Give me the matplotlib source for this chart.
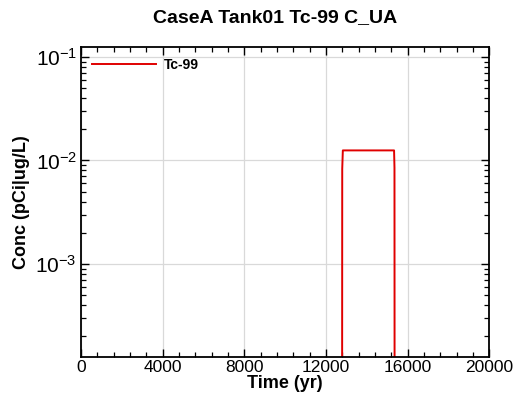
import matplotlib
matplotlib.use("Agg")
import matplotlib.pyplot as plt
from matplotlib.ticker import MultipleLocator, LogLocator, FixedLocator

plt.rcParams['font.family'] = ['Liberation Sans', 'DejaVu Sans']
plt.rcParams['mathtext.fontset'] = 'custom'
plt.rcParams['mathtext.rm'] = 'Liberation Sans'
plt.rcParams['mathtext.it'] = 'Liberation Sans:italic'
plt.rcParams['mathtext.bf'] = 'Liberation Sans:bold'

# Tc-99 concentration history (yr, pCi/L)
time_yr = [0, 12780, 12800, 12830, 15340, 15360, 15380, 20000]
conc = [1e-10, 1e-10, 0.0083, 0.0125, 0.0125, 0.0085, 1e-10, 1e-10]
series_label = "Tc-99"
title = "CaseA Tank01 Tc-99 C_UA"
xticks = [0, 4000, 8000, 12000, 16000, 20000]

fig = plt.figure(figsize=(5.16, 3.98), dpi=100)
ax = fig.add_axes([0.157, 0.103, 0.791, 0.780])

ax.plot(time_yr, conc, color='#e00000', lw=1.4, label=series_label)
ax.set_yscale('log')
ax.set_xlim(0, 20000)
ax.set_ylim(1.26e-4, 0.126)

ax.xaxis.set_major_locator(FixedLocator(xticks))
ax.xaxis.set_minor_locator(MultipleLocator(800))
ax.yaxis.set_major_locator(LogLocator(base=10, numticks=10))
ax.yaxis.set_minor_locator(LogLocator(base=10, subs=range(2, 10), numticks=20))

ax.grid(True, which='major', color='#d9d9d9', lw=0.9)
ax.set_axisbelow(True)

ax.tick_params(which='both', direction='in', top=True, right=True, color='black')
ax.tick_params(which='major', length=6, width=1.0)
ax.tick_params(which='minor', length=3.5, width=0.9)
ax.tick_params(axis='x', labelsize=12.5, pad=2)
ax.tick_params(axis='y', labelsize=15, pad=3)
for s in ax.spines.values():
    s.set_linewidth(1.3)

ax.set_xlabel("Time (yr)", fontsize=13, fontweight='bold', labelpad=0)
ax.set_ylabel("Conc (pCi|ug/L)", fontsize=13, fontweight='bold', labelpad=4)
fig.text(0.533, 0.955, title, fontsize=14, fontweight='bold',
         ha='center', va='center')

leg = ax.legend(loc='upper left', bbox_to_anchor=(0.0, 1.0), frameon=False,
                handlelength=4.6, handletextpad=0.6, borderaxespad=0.4,
                prop={'weight': 'bold', 'size': 10})

fig.savefig("out.png", dpi=100)
